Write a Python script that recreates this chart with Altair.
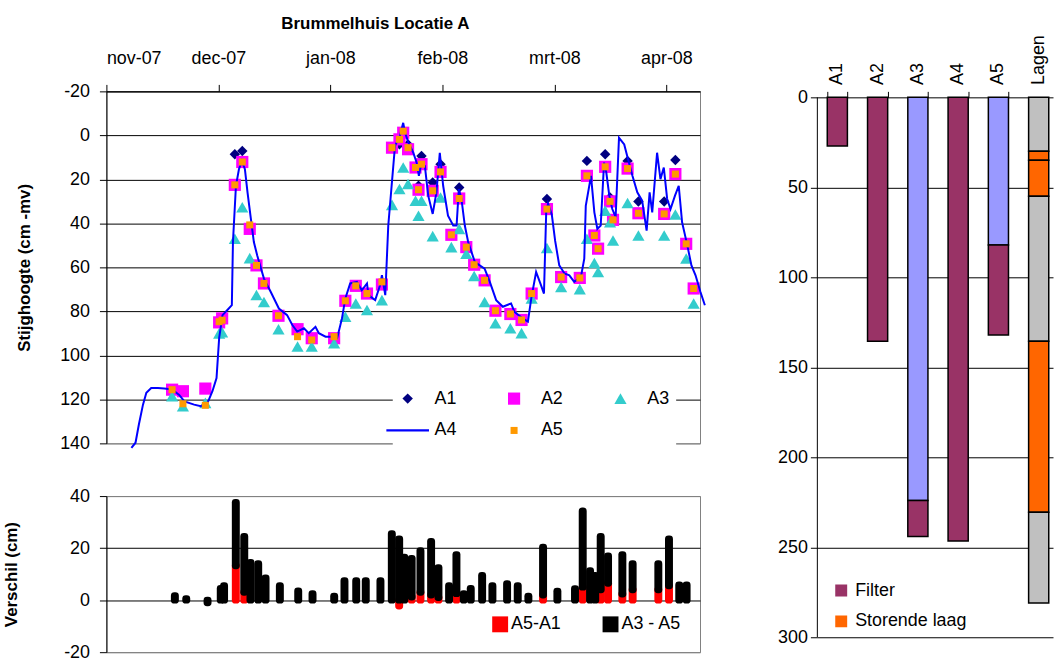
import json
import altair as alt
import pandas as pd

FONT = "Liberation Sans"

# ---------------- top chart: stijghoogte ----------------
month_ticks = [0, 30, 60, 90, 120, 150]
month_labels = ["nov-07", "dec-07", "jan-08", "feb-08", "mrt-08", "apr-08"]

a4_days = [6.7, 7.8, 8.7, 9.8, 10.7, 12.0, 13.8, 15.5, 17.6, 19.5,
           20.9, 23.5, 25.3, 27.1, 28.4, 29.5, 30.2, 31.1, 32.4, 33.6,
           33.9, 34.7, 35.5, 36.3, 37.1, 37.8, 38.7, 39.5, 40.4, 42.2,
           44.0, 46.2, 48.4, 49.8, 51.1, 52.9, 54.2, 56.0, 56.9, 58.7,
           60.4, 61.8, 63.1, 64.0, 65.3, 67.1, 68.4, 69.8, 70.2, 72.0,
           73.3, 73.8, 74.7, 75.5, 76.4, 77.3, 78.6, 79.5, 80.0, 80.9,
           82.2, 83.1, 83.7, 84.4, 85.3, 86.2, 87.4, 88.4, 89.3, 90.2,
           91.5, 92.9, 93.8, 94.4, 95.1, 96.0, 96.9, 98.7, 101.3, 102.7,
           104.4, 106.2, 108.4, 109.3, 111.5, 112.9, 113.8, 115.1, 116.4, 117.2,
           117.8, 118.3, 119.3, 120.2, 121.3, 122.7, 124.0, 125.3, 127.1, 128.0,
           128.4, 129.8, 130.7, 131.5, 132.4, 133.3, 133.9, 134.7, 135.5, 136.4,
           137.3, 138.7, 139.6, 140.9, 142.2, 143.5, 144.7, 145.5, 146.2, 147.5,
           148.4, 149.3, 150.2, 151.1, 152.3, 153.3, 154.2, 155.6, 156.7, 157.8,
           159.1, 160.3]
a4_vals = [142, 139.7, 131.4, 122.4, 117, 114.8, 114.8, 115.1, 115.5, 118,
           120.9, 122.4, 123.1, 121.6, 116.3, 110.3, 92.2, 81.7, 79.4, 77.2,
           48.5, 22.9, 15.4, 11.6, 15.4, 25.9, 38, 48.5, 54.6, 65.1,
           71.1, 78.7, 81.7, 86.2, 89.2, 87.7, 89.9, 87, 89.9, 91.5,
           91.5, 92.2, 83.2, 74.1, 67.3, 66.6, 70.4, 67.3, 72.6, 74.9,
           68.1, 63.6, 72.6, 41, 22.9, 4.8, 0.3, -5.7, -1.2, 3.3,
           7.9, 12.4, 18.4, 12.4, 13.9, 27.4, 35.7, 25.9, 7.9, 22.9,
           36.5, 41, 41, 24.4, 28.9, 41, 48.5, 57.6, 60.6, 66.6,
           74.9, 77.9, 76.4, 80.2, 83.2, 84.7, 74.1, 62.1, 68.1, 71.9,
           35, 31, 36, 48, 59.1, 62.8, 63.6, 66.6, 64.4, 56,
           32, 18.4, 35, 42.5, 41, 12.4, 16.9, 27.4, 33.5, 37.2,
           1.1, 4.1, 10.1, 18.4, 25.9, 29.7, 43.3, 25.9, 35, 7.9,
           19.9, 14.6, 28.9, 33.5, 27.4, 22.9, 39.5, 50, 59.1, 63.6,
           71.1, 77.2]

m_days = [17.6, 20.5, 26.5, 30.2, 31.0, 34.4, 36.4, 38.4, 40.2, 42.2,
          46.1, 51.2, 55.0, 61.0, 64.0, 66.8, 69.8, 73.8, 76.5, 78.5,
          79.5, 80.8, 82.8, 83.6, 84.4, 87.4, 89.5, 92.4, 94.5, 96.4,
          98.5, 101.3, 104.2, 108.2, 111.2, 113.9, 118.0, 121.8, 126.8, 128.7,
          130.7, 131.7, 133.6, 134.9, 135.7, 139.6, 142.5, 149.4, 152.4, 155.3,
          157.3]
a1 = [None, None, None, None, None, 8.6, 7.1, None, None, None,
      None, None, None, None, None, None, None, None, None, 4.0,
      None, 4.1, None, 22.9, 9.4, 21.4, 13.1, None, 23.7, None,
      None, None, None, None, None, None, 28.9, None, None, 11.6,
      None, None, 8.6, 28.2, None, 11.6, 30.1, 30.1, 11.2, None,
      None]
a2 = [115.6, 116.3, 115.1, 85.0, 83.2, 22.5, 12.1, 42.5, 59.1, 67.3,
      82.0, 88.1, 92.2, 92.2, 75.2, 68.4, 71.9, 67.8, 5.6, 1.8,
      -1.2, 6.3, 14.6, 24.7, 13.1, 25.2, 16.6, 45.2, 28.7, 50.8,
      58.8, 65.9, 79.7, 81.2, 83.9, 71.9, 33.5, 64.4, 64.8, 18.4,
      45.5, 51.5, 14.3, 30.0, 38.4, 15.1, 35.4, 35.7, 17.6, 49.3,
      69.6]
a3 = [118.6, 123.1, 121.6, 90.0, 89.5, 47.0, 32.7, 55.8, 72.6, 75.7,
      88.1, 96.0, 96.0, 94.5, 82.4, 76.4, 79.4, 74.9, 31.6, 24.4,
      14.6, 22.1, 29.7, 36.5, 29.7, 45.8, 28.2, 50.8, 42.5, 53.8,
      63.9, 75.7, 85.4, 87.7, 89.9, 74.1, 51.2, 68.9, 69.9, 47.0,
      58.0, 62.1, 34.2, 39.5, 47.8, 30.7, 45.5, 45.5, 36.0, 56.0,
      76.4]
a5 = [115.6, 122.0, 122.7, 84.7, 84.0, 22.5, 12.1, 40.7, 59.1, 67.3,
      82.0, 91.5, 93.0, 91.5, 75.2, 68.4, 71.9, 66.6, 5.6, 1.8,
      -1.9, 5.6, 14.6, 24.7, 13.1, 25.2, 16.6, 45.2, 28.7, 50.8,
      58.8, 65.9, 79.7, 81.2, 83.9, 71.9, 33.5, 64.4, 64.8, 18.4,
      45.5, 51.5, 14.3, 30.0, 38.4, 15.1, 35.4, 35.7, 17.6, 49.3,
      69.6]

series_names = ["A1", "A2", "A3", "A4", "A5"]
series_colors = ["#000080", "#FF00FF", "#33CCCC", "#0000FF", "#FF9900"]
series_shapes = ["diamond", "square", "triangle-up", "M-3.5,-0.18H3.5V0.18H-3.5Z", "square"]
series_sizes = [110, 150, 150, 150, 50]

# ---------------- bottom chart: verschil ----------------
b_days = [17.3, 20.4, 26.2, 29.8, 30.7, 33.9, 36.2, 37.9, 40.0, 42.0,
          45.9, 50.9, 54.8, 60.7, 63.5, 66.7, 69.3, 73.3, 76.4, 78.4,
          79.8, 81.8, 84.2, 87.1, 89.1, 92.0, 94.0, 96.0, 97.9, 101.0,
          103.8, 107.8, 110.7, 113.6, 117.6, 121.5, 126.3, 128.4, 130.4, 131.8,
          133.3, 135.3, 139.2, 142.0, 149.0, 151.9, 154.7, 156.7]
diff_a5_a1 = [None, None, None, None, None, 13.2, 3.0, None, None, None,
              None, None, None, None, None, None, None, None, None, -2.3,
              None, 1.2, 3.0, 2.0, 1.0, None, 2.5, None, None, None,
              None, None, None, None, 2.0, None, None, 5.0, None, None,
              4.0, 6.5, 2.4, 4.0, 4.0, 5.5, None, None]
diff_a3_a5 = [1.7, 0.5, -1.0, 4.5, 5.5, 24.3, 21.5, 14.5, 14.0, 8.5,
              5.5, 3.5, 2.5, 1.5, 7.5, 7.5, 7.5, 7.5, 25.5, 23.5,
              16.5, 14.8, 16.0, 20.5, 11.5, 5.5, 15.0, 2.5, 4.5, 9.5,
              5.5, 6.3, 5.5, 1.5, 18.3, 3.4, 4.4, 29.3, 11.3, 9.5,
              20.5, 10.5, 15.1, 10.0, 10.0, 18.0, 5.8, 5.8]
diff_names = ["A5-A1", "A3 - A5"]
diff_colors = ["#FF0000", "#000000"]

# ---------------- right chart: filters en lagen ----------------
tube_order = ["A1", "A2", "A3", "A4", "A5", "Lagen"]
seg_tube = ["A1", "A2", "A3", "A3", "A4", "A5", "A5",
            "Lagen", "Lagen", "Lagen", "Lagen", "Lagen", "Lagen"]
seg_start = [0, 0, 0, 224, 0, 0, 82, 0, 30, 35, 55, 135.5, 230.5]
seg_end = [27, 135.5, 224, 244, 246.5, 82, 132, 30, 35, 55, 135.5, 230.5, 281]
seg_kind = ["Filter", "Filter", "Stijgbuis", "Filter", "Filter", "Stijgbuis", "Filter",
            "Grond", "Storende laag", "Storende laag", "Grond", "Storende laag", "Grond"]
kind_names = ["Filter", "Storende laag", "Stijgbuis", "Grond"]
kind_colors = ["#993366", "#FF6600", "#9999FF", "#C0C0C0"]

# ================= build =================
rows = []
for name, vals in (("A1", a1), ("A2", a2), ("A3", a3), ("A5", a5)):
    for d, v in zip(m_days, vals):
        if v is not None:
            rows.append({"day": d, "value": v, "serie": name})
pts = pd.DataFrame(rows)
line_df = pd.DataFrame({"day": a4_days, "value": a4_vals})

HYPHEN_LABEL = "datum.value < 0 ? '-' + abs(datum.value) : '' + datum.value"

xs = alt.Scale(domain=[0, 159], nice=False, zero=False)
ys_top = alt.Scale(domain=[-20, 140], reverse=True, nice=False, zero=False)

label_expr = json.dumps(month_labels) + "[round(datum.value / 30)]"
x_top_axis = alt.Axis(orient="top", values=month_ticks, labelExpr=label_expr, grid=False,
                      tickSize=7, labelPadding=17, title=None, domainColor="#000000")
y_top_axis = alt.Axis(values=list(range(-20, 141, 20)), title="Stijghoogte (cm -mv)",
                      labelExpr=HYPHEN_LABEL,
                      titlePadding=26.5, tickSize=7, labelPadding=10, grid=True,
                      gridColor=alt.condition("datum.value == 140", alt.value("#808080"), alt.value("#000000")))

top_legend = alt.Legend(title=None, orient="none", legendX=288, legendY=294, columns=3,
                        direction="horizontal", rowPadding=14, columnPadding=48,
                        labelOffset=18, fillColor="white", padding=6, symbolOpacity=1,
                        symbolStrokeWidth=0, gridAlign="each")

color_s = alt.Scale(domain=series_names, range=series_colors)
shape_s = alt.Scale(domain=series_names, range=series_shapes)
size_s = alt.Scale(type="ordinal", domain=series_names, range=series_sizes)


def point_layer(names):
    return alt.Chart(pts).transform_filter(
        alt.FieldOneOfPredicate(field="serie", oneOf=names)
    ).mark_point(filled=True, opacity=1, strokeWidth=0).encode(
        x=alt.X("day:Q", scale=xs, axis=x_top_axis),
        y=alt.Y("value:Q", scale=ys_top, axis=y_top_axis),
        color=alt.Color("serie:N", scale=color_s, legend=top_legend),
        shape=alt.Shape("serie:N", scale=shape_s, legend=top_legend),
        size=alt.Size("serie:N", scale=size_s, legend=top_legend),
    )


line = alt.Chart(line_df).mark_line(color="#0000FF", strokeWidth=2, clip=False).encode(
    x=alt.X("day:Q", scale=xs, axis=x_top_axis),
    y=alt.Y("value:Q", scale=ys_top, axis=y_top_axis),
)

top = alt.layer(point_layer(["A1", "A2", "A3"]), line, point_layer(["A5"])).properties(
    width=597, height=354,
    title=alt.TitleParams("Brummelhuis Locatie A", fontSize=17, fontWeight="bold", font=FONT,
                          anchor="middle", offset=17, dx=-28, color="#000000"),
    view=alt.ViewBackground(stroke="#808080"),
)

# bottom
bot = pd.DataFrame({"day": b_days, "red": diff_a5_a1, "black": diff_a3_a5})
bot["red"] = pd.to_numeric(bot["red"])
bot["zero"] = 0.0
bot["base"] = bot["red"].clip(lower=0).fillna(0)
bot["top"] = bot["base"] + bot["black"]
red_df = bot.dropna(subset=["red"]).assign(kind=diff_names[0])
black_df = bot.assign(kind=diff_names[1])

ys_bot = alt.Scale(domain=[-20, 40], nice=False, zero=False)
y_bot_axis = alt.Axis(values=[-20, 0, 20, 40], title="Verschil (cm)", titlePadding=43.5,
                      labelExpr=HYPHEN_LABEL,
                      tickSize=7, labelPadding=10, grid=True,
                      gridColor=alt.condition("datum.value == 40 || datum.value == -20",
                                              alt.value("#808080"), alt.value("#000000")))
diff_s = alt.Scale(domain=diff_names, range=diff_colors)
bot_legend = alt.Legend(title=None, orient="none", legendX=387, legendY=120, direction="horizontal",
                        columns=2, symbolType="square", symbolSize=256, symbolStrokeWidth=0,
                        symbolOpacity=1, labelOffset=2, columnPadding=40)


def diff_layer(df, y0, y1, stroke):
    return alt.Chart(df).mark_bar(size=1, stroke=stroke, strokeWidth=7, strokeJoin="round",
                                  opacity=1).encode(
        x=alt.X("day:Q", scale=xs, axis=None),
        y=alt.Y(f"{y0}:Q", scale=ys_bot, axis=y_bot_axis),
        y2=f"{y1}:Q",
        color=alt.Color("kind:N", scale=diff_s, legend=bot_legend),
    )


bottom = alt.layer(diff_layer(red_df, "zero", "red", diff_colors[0]),
                   diff_layer(black_df, "base", "top", diff_colors[1])).properties(
    width=597, height=157, view=alt.ViewBackground(stroke="#808080")
)

left = alt.vconcat(top, bottom, spacing=33).resolve_scale(
    x="independent", y="independent", color="independent", shape="independent", size="independent")

# right
seg = pd.DataFrame({"tube": seg_tube, "start": seg_start, "end": seg_end, "kind": seg_kind})
tube_scale = alt.Scale(domain=tube_order, paddingInner=0.5, paddingOuter=0.176, align=0.7)
depth_scale = alt.Scale(domain=[-3.315, 300], reverse=True, nice=False, zero=False)
depth_axis = alt.Axis(values=[0, 50, 100, 150, 200, 250, 300], grid=True, gridColor="#000000",
                      tickSize=7, labelPadding=3, title=None, domain=False)

right = alt.Chart(seg).mark_bar(stroke="#000000", strokeWidth=1.5).encode(
    x=alt.X("tube:N", sort=tube_order, scale=tube_scale,
            axis=alt.Axis(orient="top", labelAngle=270, ticks=False, offset=-6,
                          labelPadding=13, title=None, domain=False, grid=False)),
    y=alt.Y("start:Q", scale=depth_scale, axis=depth_axis),
    y2="end:Q",
    color=alt.Color("kind:N", scale=alt.Scale(domain=kind_names, range=kind_colors),
                    legend=alt.Legend(title=None, values=["Filter", "Storende laag"], orient="none",
                                      legendX=15, legendY=492, symbolType="square", symbolSize=144,
                                      clipHeight=20, rowPadding=11, labelOffset=5,
                                      symbolStrokeWidth=0, symbolOpacity=1)),
)

# tick marks between the columns (band edges), without labels
right_ticks = alt.Chart(seg).mark_bar(opacity=0).encode(
    x=alt.X("tube:N", sort=tube_order, scale=tube_scale,
            axis=alt.Axis(orient="top", values=tube_order[:5], tickBand="extent", labels=False,
                          ticks=True, tickSize=6, offset=-6, title=None, domain=False, grid=False)),
    y=alt.Y("start:Q", scale=depth_scale, axis=depth_axis),
    y2="end:Q",
)

# left axis line of the right panel (from 0 to 300)
right_axis_line = alt.Chart(pd.DataFrame({"a": [0], "b": [300]})).mark_rule(
    color="#000000", strokeWidth=1).encode(
    x=alt.value(0),
    y=alt.Y("a:Q", scale=depth_scale, axis=depth_axis),
    y2="b:Q",
)
right_panel = alt.layer(right, right_ticks, right_axis_line).resolve_axis(x="independent").properties(
    width=237, height=549,
    view=alt.ViewBackground(stroke="transparent"),
)

chart = alt.hconcat(left, right_panel, spacing=67).resolve_scale(
    x="independent", y="independent", color="independent", shape="independent", size="independent"
).properties(
    padding={"left": 1, "top": 12, "right": 0, "bottom": 0}
).configure(font=FONT).configure_axis(
    labelFont=FONT, titleFont=FONT, labelFontSize=18, titleFontSize=17, titleFontWeight="bold",
    labelColor="#000000", titleColor="#000000", domainColor="#000000", tickColor="#000000",
    gridOpacity=1, gridWidth=1,
).configure_legend(
    labelFont=FONT, labelFontSize=18, labelColor="#000000", labelLimit=300
)

chart.save("out.html", embed_options={"renderer": "svg", "actions": False})
